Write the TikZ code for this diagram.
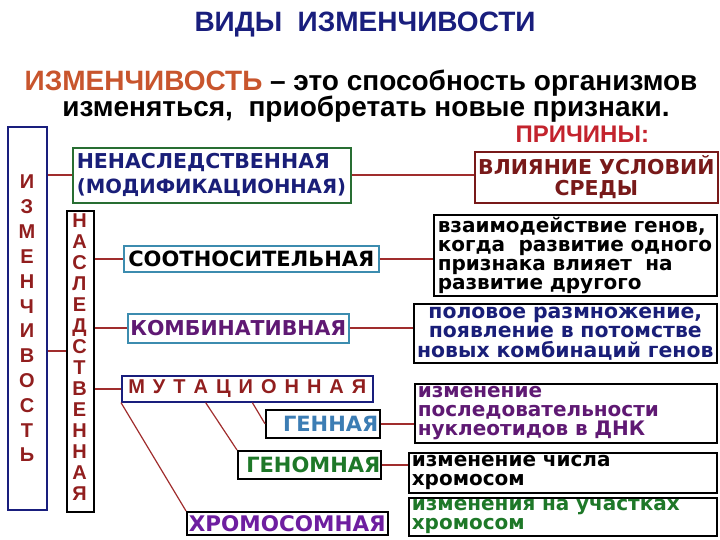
\documentclass[tikz,border=0pt]{standalone}
\usepackage{fontspec}
\setmainfont{Liberation Sans}
\newfontfamily\wide{DejaVu Sans}
\usetikzlibrary{calc}
\definecolor{titleblue}{RGB}{25,30,125}
\definecolor{defred}{RGB}{200,85,45}
\definecolor{letterred}{RGB}{145,30,30}
\definecolor{linkred}{RGB}{160,45,45}
\definecolor{causered}{RGB}{195,35,45}
\definecolor{vlred}{RGB}{120,25,25}
\definecolor{boxgreen}{RGB}{40,110,50}
\definecolor{boxteal}{RGB}{60,140,175}
\definecolor{textnavy}{RGB}{25,30,120}
\definecolor{textpurple}{RGB}{95,25,115}
\definecolor{chrompurple}{RGB}{110,30,160}
\definecolor{genblue}{RGB}{60,125,180}
\definecolor{genomgreen}{RGB}{30,120,40}
\newcommand\mutgap{\hspace{8pt}}
\newcommand\widefont[2]{\wide\fontsize{#1}{#2}\selectfont\bfseries}
\begin{document}
\begin{tikzpicture}[x=1pt,y=-1pt]
\useasboundingbox (0,0) rectangle (720,540);
\tikzstyle{box}=[draw,line width=1.6pt,inner sep=0pt,anchor=north west]
\tikzstyle{link}=[linkred,line width=2.2pt]
\tikzstyle{slant}=[linkred,line width=1.2pt]
\tikzstyle{vletter}=[inner sep=0pt,anchor=base,text=letterred,font=\fontsize{20}{20}\selectfont\bfseries]
\tikzstyle{head}=[font=\fontsize{28}{28}\selectfont\bfseries,anchor=base]
\tikzstyle{caps}=[font=\widefont{20.5}{25}]
\tikzstyle{bigcaps}=[font=\widefont{21}{21}]
\tikzstyle{small}=[font=\widefont{20}{19}]
% heading
\node[head,text=titleblue] (title) at (365,32) {ВИДЫ\ \ ИЗМЕНЧИВОСТИ};
\node[head] (def) at (361,91) {\textcolor{defred}{ИЗМЕНЧИВОСТЬ} – это способность организмов};
\node[head] (def2) at (366,117) {изменяться,\ \ приобретать новые признаки.};
\node[anchor=base west,text=causered,font=\fontsize{24}{24}\selectfont\bfseries] (cause) at (512,143) {ПРИЧИНЫ:};
% vertical boxes
\node[box,draw=titleblue,minimum width=39,minimum height=383] (izm) at (7,126) {};
\foreach \ch [count=\i from 0] in {И,З,М,Е,Н,Ч,И,В,О,С,Т,Ь}
  \node[vletter] (izm\i) at (27,189+24.8*\i) {\ch};
\node[box,minimum width=27,minimum height=301] (nasl) at (66,210) {};
\foreach \ch [count=\i from 0] in {Н,А,С,Л,Е,Д,С,Т,В,Е,Н,Н,А,Я}
  \node[vletter] (nasl\i) at (79.5,227+21*\i) {\ch};
% kinds
\node[box,caps,draw=boxgreen,text=textnavy,minimum width=278,minimum height=55,text width=270,align=left] (nenasl) at (72,147) {НЕНАСЛЕДСТВЕННАЯ\\\fontsize{19.6}{25}\selectfont(МОДИФИКАЦИОННАЯ)};
\node[box,bigcaps,draw=boxteal,minimum width=255,minimum height=26] (soot) at (123,245) {СООТНОСИТЕЛЬНАЯ};
\node[box,caps,draw=boxteal,text=textpurple,minimum width=221,minimum height=29] (komb) at (127,313) {КОМБИНАТИВНАЯ};
\node[box,draw=titleblue,text=letterred,font=\fontsize{20}{20}\selectfont\bfseries,minimum width=251,minimum height=26] (mut) at (121,375) {М\mutgap У\mutgap Т\mutgap А\mutgap Ц\mutgap И\mutgap О\mutgap Н\mutgap Н\mutgap А\mutgap Я};
\node[box,bigcaps,text=genblue,minimum width=114,minimum height=28,text width=111,align=right] (genn) at (265,409) {ГЕННАЯ};
\node[box,bigcaps,text=genomgreen,minimum width=143,minimum height=28,text width=142,align=right] (genom) at (237,450) {ГЕНОМНАЯ};
\node[box,font=\widefont{21.5}{21},text=chrompurple,minimum width=201,minimum height=23,text width=197,align=right] (hrom) at (186,511) {ХРОМОСОМНАЯ};
% causes
\node[box,caps,draw=vlred,text=vlred,minimum width=243,minimum height=51,align=center] (vliyanie) at (474,151) {ВЛИЯНИЕ УСЛОВИЙ\\[-4pt]СРЕДЫ};
\node[box,font=\widefont{20}{19},minimum width=283,minimum height=81,text width=275,align=left] (vzaim) at (433,214) {взаимодействие генов,\\когда\ \ развитие одного\\признака влияет\ \ на\\развитие другого};
\node[box,font=\widefont{20.4}{19.5},text=textnavy,minimum width=303,minimum height=59,text width=300,align=center] (polov) at (413,303) {половое размножение,\\появление в потомстве\\новых комбинаций генов};
\node[box,small,text=textpurple,minimum width=302,minimum height=59,text width=296,align=left] (posl) at (414,383) {изменение\\последовательности\\нуклеотидов в ДНК};
\node[box,small,minimum width=308,minimum height=40,text width=302,align=left] (chisla) at (408,452) {изменение числа\\хромосом};
\node[box,small,text=genomgreen,minimum width=308,minimum height=38,text width=302,align=left] (uchast) at (408,497) {изменения на участках\\хромосом};
% connectors
\coordinate (split) at (46,351);
\draw[link] (izm.east |- nenasl.west) -- (nenasl.west);
\draw[link] (izm.east |- split) -- (nasl.west |- split);
\draw[link] (nenasl.east) -- (nenasl.east -| vliyanie.west);
\draw[link] (nasl.east |- soot.west) -- (soot.west);
\draw[link] (soot.east) -- (soot.east -| vzaim.west);
\draw[link] (nasl.east |- komb.west) -- (komb.west);
\draw[link] (komb.east) -- (komb.east -| polov.west);
\draw[link] (nasl.east |- mut.west) -- (mut.west);
\draw[link] (genn.east) -- (genn.east -| posl.west);
\draw[link] (genom.east) -- (genom.east -| chisla.west);
\draw[slant] ($(mut.south west)!0.52!(mut.south east)$) -- (genn.west);
\draw[slant] ($(mut.south west)!0.335!(mut.south east)$) -- (genom.north west);
\draw[slant] (mut.south west) -- (hrom.north west);
\end{tikzpicture}
\end{document}
